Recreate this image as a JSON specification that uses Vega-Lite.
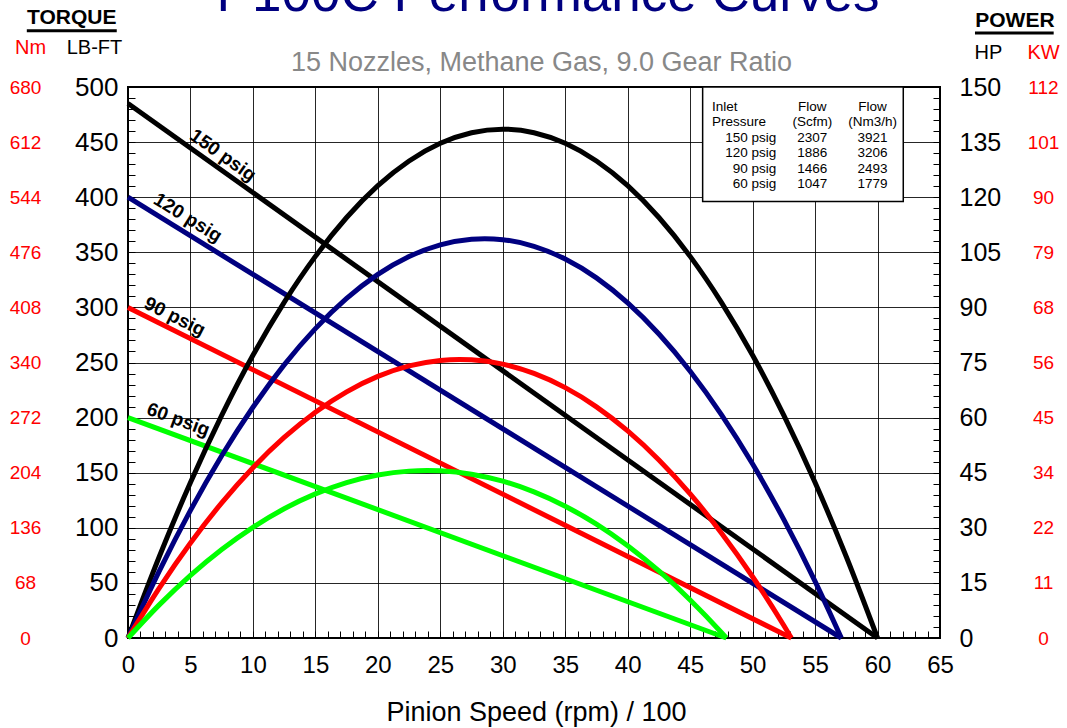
{
  "$schema": "https://vega.github.io/schema/vega-lite/v6.json",
  "width": 812,
  "height": 551,
  "autosize": {"type": "none"},
  "padding": {"left": 128, "top": 87, "right": 127, "bottom": 90},
  "background": "white",
  "title": {
    "text": "P100C Performance Curves",
    "color": "#000080",
    "fontSize": 53,
    "fontWeight": "normal",
    "font": "Liberation Sans",
    "anchor": "middle",
    "frame": "group",
    "dx": 14,
    "dy": 57,
    "baseline": "alphabetic",
    "offset": 0
  },
  "config": {
    "view": {"stroke": "#000000", "strokeWidth": 2},
    "axis": {
      "labelFont": "Liberation Sans",
      "titleFont": "Liberation Sans",
      "labelColor": "#000000",
      "titleColor": "#000000",
      "tickColor": "#000000",
      "tickWidth": 1,
      "gridColor": "#000000",
      "gridWidth": 1,
      "gridOpacity": 0.85,
      "labelOverlap": false,
      "labelFlush": false,
      "titleFontWeight": "normal"
    },
    "text": {"font": "Liberation Sans"}
  },
  "datasets": {
    "torque": [
      {"series": "150 psig", "speed": 0, "torque": 485},
      {"series": "150 psig", "speed": 60, "torque": 0},
      {"series": "120 psig", "speed": 0, "torque": 400},
      {"series": "120 psig", "speed": 57.1, "torque": 0},
      {"series": "90 psig", "speed": 0, "torque": 300},
      {"series": "90 psig", "speed": 53.1, "torque": 0},
      {"series": "60 psig", "speed": 0, "torque": 200},
      {"series": "60 psig", "speed": 47.9, "torque": 0}
    ],
    "power": [
      {"series": "150 psig", "speed": 0, "hp": 0},
      {"series": "150 psig", "speed": 2.5, "hp": 22.12},
      {"series": "150 psig", "speed": 5, "hp": 42.33},
      {"series": "150 psig", "speed": 7.5, "hp": 60.6},
      {"series": "150 psig", "speed": 10, "hp": 76.96},
      {"series": "150 psig", "speed": 12.5, "hp": 91.38},
      {"series": "150 psig", "speed": 15, "hp": 103.89},
      {"series": "150 psig", "speed": 17.5, "hp": 114.47},
      {"series": "150 psig", "speed": 20, "hp": 123.13},
      {"series": "150 psig", "speed": 22.5, "hp": 129.86},
      {"series": "150 psig", "speed": 25, "hp": 134.67},
      {"series": "150 psig", "speed": 27.5, "hp": 137.56},
      {"series": "150 psig", "speed": 30, "hp": 138.52},
      {"series": "150 psig", "speed": 32.5, "hp": 137.56},
      {"series": "150 psig", "speed": 35, "hp": 134.67},
      {"series": "150 psig", "speed": 37.5, "hp": 129.86},
      {"series": "150 psig", "speed": 40, "hp": 123.13},
      {"series": "150 psig", "speed": 42.5, "hp": 114.47},
      {"series": "150 psig", "speed": 45, "hp": 103.89},
      {"series": "150 psig", "speed": 47.5, "hp": 91.38},
      {"series": "150 psig", "speed": 50, "hp": 76.96},
      {"series": "150 psig", "speed": 52.5, "hp": 60.6},
      {"series": "150 psig", "speed": 55, "hp": 42.33},
      {"series": "150 psig", "speed": 57.5, "hp": 22.12},
      {"series": "150 psig", "speed": 60, "hp": 0},
      {"series": "120 psig", "speed": 0, "hp": 0},
      {"series": "120 psig", "speed": 2.5, "hp": 18.21},
      {"series": "120 psig", "speed": 5, "hp": 34.75},
      {"series": "120 psig", "speed": 7.5, "hp": 49.62},
      {"series": "120 psig", "speed": 10, "hp": 62.82},
      {"series": "120 psig", "speed": 12.5, "hp": 74.36},
      {"series": "120 psig", "speed": 15, "hp": 84.23},
      {"series": "120 psig", "speed": 17.5, "hp": 92.43},
      {"series": "120 psig", "speed": 20, "hp": 98.97},
      {"series": "120 psig", "speed": 22.5, "hp": 103.84},
      {"series": "120 psig", "speed": 25, "hp": 107.04},
      {"series": "120 psig", "speed": 27.5, "hp": 108.57},
      {"series": "120 psig", "speed": 28.55, "hp": 108.72},
      {"series": "120 psig", "speed": 30, "hp": 108.44},
      {"series": "120 psig", "speed": 32.5, "hp": 106.64},
      {"series": "120 psig", "speed": 35, "hp": 103.17},
      {"series": "120 psig", "speed": 37.5, "hp": 98.04},
      {"series": "120 psig", "speed": 40, "hp": 91.23},
      {"series": "120 psig", "speed": 42.5, "hp": 82.76},
      {"series": "120 psig", "speed": 45, "hp": 72.63},
      {"series": "120 psig", "speed": 47.5, "hp": 60.82},
      {"series": "120 psig", "speed": 50, "hp": 47.35},
      {"series": "120 psig", "speed": 52.5, "hp": 32.21},
      {"series": "120 psig", "speed": 55, "hp": 15.41},
      {"series": "120 psig", "speed": 57.1, "hp": 0},
      {"series": "90 psig", "speed": 0, "hp": 0},
      {"series": "90 psig", "speed": 2.5, "hp": 13.61},
      {"series": "90 psig", "speed": 5, "hp": 25.87},
      {"series": "90 psig", "speed": 7.5, "hp": 36.79},
      {"series": "90 psig", "speed": 10, "hp": 46.36},
      {"series": "90 psig", "speed": 12.5, "hp": 54.59},
      {"series": "90 psig", "speed": 15, "hp": 61.48},
      {"series": "90 psig", "speed": 17.5, "hp": 67.02},
      {"series": "90 psig", "speed": 20, "hp": 71.21},
      {"series": "90 psig", "speed": 22.5, "hp": 74.06},
      {"series": "90 psig", "speed": 25, "hp": 75.57},
      {"series": "90 psig", "speed": 26.55, "hp": 75.83},
      {"series": "90 psig", "speed": 27.5, "hp": 75.73},
      {"series": "90 psig", "speed": 30, "hp": 74.55},
      {"series": "90 psig", "speed": 32.5, "hp": 72.02},
      {"series": "90 psig", "speed": 35, "hp": 68.15},
      {"series": "90 psig", "speed": 37.5, "hp": 62.93},
      {"series": "90 psig", "speed": 40, "hp": 56.37},
      {"series": "90 psig", "speed": 42.5, "hp": 48.46},
      {"series": "90 psig", "speed": 45, "hp": 39.21},
      {"series": "90 psig", "speed": 47.5, "hp": 28.61},
      {"series": "90 psig", "speed": 50, "hp": 16.67},
      {"series": "90 psig", "speed": 52.5, "hp": 3.39},
      {"series": "90 psig", "speed": 53.1, "hp": 0},
      {"series": "60 psig", "speed": 0, "hp": 0},
      {"series": "60 psig", "speed": 2.5, "hp": 9.02},
      {"series": "60 psig", "speed": 5, "hp": 17.05},
      {"series": "60 psig", "speed": 7.5, "hp": 24.09},
      {"series": "60 psig", "speed": 10, "hp": 30.13},
      {"series": "60 psig", "speed": 12.5, "hp": 35.18},
      {"series": "60 psig", "speed": 15, "hp": 39.23},
      {"series": "60 psig", "speed": 17.5, "hp": 42.29},
      {"series": "60 psig", "speed": 20, "hp": 44.36},
      {"series": "60 psig", "speed": 22.5, "hp": 45.43},
      {"series": "60 psig", "speed": 23.95, "hp": 45.6},
      {"series": "60 psig", "speed": 25, "hp": 45.51},
      {"series": "60 psig", "speed": 27.5, "hp": 44.6},
      {"series": "60 psig", "speed": 30, "hp": 42.69},
      {"series": "60 psig", "speed": 32.5, "hp": 39.79},
      {"series": "60 psig", "speed": 35, "hp": 35.89},
      {"series": "60 psig", "speed": 37.5, "hp": 31.01},
      {"series": "60 psig", "speed": 40, "hp": 25.12},
      {"series": "60 psig", "speed": 42.5, "hp": 18.25},
      {"series": "60 psig", "speed": 45, "hp": 10.37},
      {"series": "60 psig", "speed": 47.5, "hp": 1.51},
      {"series": "60 psig", "speed": 47.9, "hp": 0}
    ],
    "labels": [
      {"series": "150 psig", "speed": 7.0, "torque": 428.4},
      {"series": "120 psig", "speed": 4.2, "torque": 370.6},
      {"series": "90 psig", "speed": 3.3, "torque": 281.4},
      {"series": "60 psig", "speed": 3.6, "torque": 185.0}
    ],
    "table": [
      {"line": 1, "c1": "Inlet", "c2": "Flow", "c3": "Flow"},
      {"line": 2, "c1": "Pressure", "c2": "(Scfm)", "c3": "(Nm3/h)"},
      {"line": 3, "c1": "150 psig", "c2": "2307", "c3": "3921"},
      {"line": 4, "c1": "120 psig", "c2": "1886", "c3": "3206"},
      {"line": 5, "c1": "90  psig", "c2": "1466", "c3": "2493"},
      {"line": 6, "c1": "60  psig", "c2": "1047", "c3": "1779"}
    ]
  },
  "layer": [
    {
      "data": {"name": "torque"},
      "mark": {"type": "line", "opacity": 0},
      "encoding": {
        "x": {
          "field": "speed", "type": "quantitative",
          "scale": {"domain": [0, 65], "nice": false, "zero": false},
          "axis": {
            "orient": "top",
            "values": [0, 5, 10, 15, 20, 25, 30, 35, 40, 45, 50, 55, 60, 65],
            "grid": true, "labels": false, "ticks": false, "domain": false,
            "title": "15 Nozzles, Methane Gas, 9.0 Gear Ratio",
            "titleColor": "#888888", "titleFontSize": 27,
            "titleX": 413, "titleY": -17, "titleAlign": "center", "titleBaseline": "alphabetic"
          }
        },
        "y": {
          "field": "torque", "type": "quantitative",
          "scale": {"domain": [0, 500], "nice": false},
          "axis": {
            "orient": "left",
            "values": [0, 50, 100, 150, 200, 250, 300, 350, 400, 450, 500],
            "grid": true, "ticks": false, "domain": false,
            "labelExpr": "format(datum.value * 1.36, '.0f')",
            "labelColor": "#ff0000", "labelFontSize": 19, "labelAlign": "center", "labelBaseline": "middle",
            "labelPadding": 103,
            "title": "Nm", "titleColor": "#ff0000", "titleFontSize": 20, "titleAngle": 0,
            "titleX": -98, "titleY": -40, "titleAlign": "center", "titleBaseline": "middle"
          }
        }
      }
    },
    {
      "data": {"name": "torque"},
      "mark": {"type": "line", "strokeWidth": 5},
      "encoding": {
        "x": {
          "field": "speed", "type": "quantitative",
          "axis": {
            "orient": "bottom",
            "values": [0,1,2,3,4,5,6,7,8,9,10,11,12,13,14,15,16,17,18,19,20,21,22,23,24,25,26,27,28,29,30,31,32,33,34,35,36,37,38,39,40,41,42,43,44,45,46,47,48,49,50,51,52,53,54,55,56,57,58,59,60,61,62,63,64,65],
            "labelExpr": "datum.value % 5 == 0 ? datum.label : ''",
            "grid": false, "domain": false, "tickSize": -7,
            "labelFontSize": 24, "labelPadding": 22, "labelBaseline": "top",
            "title": "Pinion Speed (rpm) / 100", "titleFontSize": 27,
            "titleX": 408, "titleY": 74, "titleAlign": "center", "titleBaseline": "middle"
          }
        },
        "y": {
          "field": "torque", "type": "quantitative",
          "scale": {"domain": [0, 500], "nice": false},
          "axis": {
            "orient": "left",
            "values": [0,10,20,30,40,50,60,70,80,90,100,110,120,130,140,150,160,170,180,190,200,210,220,230,240,250,260,270,280,290,300,310,320,330,340,350,360,370,380,390,400,410,420,430,440,450,460,470,480,490,500],
            "labelExpr": "datum.value % 50 == 0 ? datum.label : ''",
            "grid": false, "domain": false, "tickSize": -7,
            "labelFontSize": 26, "labelPadding": 17, "labelBaseline": "middle",
            "title": "LB-FT", "titleFontSize": 20, "titleAngle": 0,
            "titleX": -34, "titleY": -40, "titleAlign": "center", "titleBaseline": "middle"
          }
        },
        "color": {
          "field": "series", "type": "nominal",
          "scale": {"domain": ["150 psig", "120 psig", "90 psig", "60 psig"], "range": ["#000000", "#000080", "#ff0000", "#00ff00"]},
          "legend": null
        }
      }
    },
    {
      "data": {"name": "power"},
      "mark": {"type": "line", "strokeWidth": 5, "interpolate": "monotone"},
      "encoding": {
        "x": {"field": "speed", "type": "quantitative", "axis": null},
        "y": {
          "field": "hp", "type": "quantitative",
          "scale": {"domain": [0, 150], "nice": false},
          "axis": {
            "orient": "right",
            "values": [0,3,6,9,12,15,18,21,24,27,30,33,36,39,42,45,48,51,54,57,60,63,66,69,72,75,78,81,84,87,90,93,96,99,102,105,108,111,114,117,120,123,126,129,132,135,138,141,144,147,150],
            "labelExpr": "datum.value % 15 == 0 ? datum.label : ''",
            "grid": false, "domain": false, "tickSize": -7,
            "labelFontSize": 25, "labelPadding": 26, "labelBaseline": "middle", "labelAlign": "left",
            "title": "HP", "titleFontSize": 20, "titleAngle": 0,
            "titleX": 48, "titleY": -35, "titleAlign": "center", "titleBaseline": "middle"
          }
        },
        "color": {"field": "series", "type": "nominal", "legend": null}
      }
    },
    {
      "data": {"name": "power"},
      "mark": {"type": "line", "opacity": 0},
      "encoding": {
        "x": {"field": "speed", "type": "quantitative", "axis": null},
        "y": {
          "field": "hp", "type": "quantitative",
          "scale": {"domain": [0, 150], "nice": false},
          "axis": {
            "orient": "right",
            "values": [0, 15, 30, 45, 60, 75, 90, 105, 120, 135, 150],
            "grid": false, "ticks": false, "domain": false,
            "labelExpr": "['0','11','22','34','45','56','68','79','90','101','112'][round(datum.value / 15)]",
            "labelColor": "#ff0000", "labelFontSize": 19, "labelAlign": "center", "labelBaseline": "middle",
            "labelPadding": 103,
            "title": "KW", "titleColor": "#ff0000", "titleFontSize": 20, "titleAngle": 0,
            "titleX": 103, "titleY": -35, "titleAlign": "center", "titleBaseline": "middle"
          }
        }
      }
    },
    {
      "data": {"name": "labels"},
      "transform": [{"filter": "datum.series == '150 psig'"}],
      "mark": {"type": "text", "angle": 35.5, "dy": -13, "fontSize": 19, "fontWeight": "bold", "align": "center", "baseline": "middle", "color": "#000000"},
      "encoding": {
        "x": {"field": "speed", "type": "quantitative", "axis": null},
        "y": {"field": "torque", "type": "quantitative", "scale": {"domain": [0, 500], "nice": false}, "axis": null},
        "text": {"field": "series"}
      }
    },
    {
      "data": {"name": "labels"},
      "transform": [{"filter": "datum.series == '120 psig'"}],
      "mark": {"type": "text", "angle": 31.7, "dy": -14, "fontSize": 19, "fontWeight": "bold", "align": "center", "baseline": "middle", "color": "#000000"},
      "encoding": {
        "x": {"field": "speed", "type": "quantitative", "axis": null},
        "y": {"field": "torque", "type": "quantitative", "scale": {"domain": [0, 500], "nice": false}, "axis": null},
        "text": {"field": "series"}
      }
    },
    {
      "data": {"name": "labels"},
      "transform": [{"filter": "datum.series == '90 psig'"}],
      "mark": {"type": "text", "angle": 26.5, "dy": -12.5, "fontSize": 19, "fontWeight": "bold", "align": "center", "baseline": "middle", "color": "#000000"},
      "encoding": {
        "x": {"field": "speed", "type": "quantitative", "axis": null},
        "y": {"field": "torque", "type": "quantitative", "scale": {"domain": [0, 500], "nice": false}, "axis": null},
        "text": {"field": "series"}
      }
    },
    {
      "data": {"name": "labels"},
      "transform": [{"filter": "datum.series == '60 psig'"}],
      "mark": {"type": "text", "angle": 20.2, "dy": -15.5, "fontSize": 19, "fontWeight": "bold", "align": "center", "baseline": "middle", "color": "#000000"},
      "encoding": {
        "x": {"field": "speed", "type": "quantitative", "axis": null},
        "y": {"field": "torque", "type": "quantitative", "scale": {"domain": [0, 500], "nice": false}, "axis": null},
        "text": {"field": "series"}
      }
    },
    {
      "data": {"values": [{}]},
      "mark": {"type": "rect", "fill": "#ffffff", "stroke": "#000000", "strokeWidth": 1.5},
      "encoding": {
        "x": {"datum": 46.0, "type": "quantitative", "axis": null},
        "x2": {"datum": 62.06},
        "y": {"datum": 500, "type": "quantitative", "scale": {"domain": [0, 500], "nice": false}, "axis": null},
        "y2": {"datum": 396}
      }
    },
    {
      "data": {"name": "table"},
      "transform": [{"filter": "datum.line <= 2"}],
      "mark": {"type": "text", "align": "left", "baseline": "middle", "fontSize": 13.5, "color": "#000000"},
      "encoding": {
        "x": {"datum": 46.75, "type": "quantitative", "axis": null},
        "y": {"field": "line", "type": "quantitative", "scale": {"domain": [1, 6], "range": [19.7, 97]}, "axis": null},
        "text": {"field": "c1"}
      }
    },
    {
      "data": {"name": "table"},
      "transform": [{"filter": "datum.line >= 3"}],
      "mark": {"type": "text", "align": "right", "baseline": "middle", "fontSize": 13.5, "color": "#000000"},
      "encoding": {
        "x": {"datum": 51.9, "type": "quantitative", "axis": null},
        "y": {"field": "line", "type": "quantitative", "scale": {"domain": [1, 6], "range": [19.7, 97]}, "axis": null},
        "text": {"field": "c1"}
      }
    },
    {
      "data": {"name": "table"},
      "mark": {"type": "text", "align": "center", "baseline": "middle", "fontSize": 13.5, "color": "#000000"},
      "encoding": {
        "x": {"datum": 54.78, "type": "quantitative", "axis": null},
        "y": {"field": "line", "type": "quantitative", "scale": {"domain": [1, 6], "range": [19.7, 97]}, "axis": null},
        "text": {"field": "c2"}
      }
    },
    {
      "data": {"name": "table"},
      "mark": {"type": "text", "align": "center", "baseline": "middle", "fontSize": 13.5, "color": "#000000"},
      "encoding": {
        "x": {"datum": 59.6, "type": "quantitative", "axis": null},
        "y": {"field": "line", "type": "quantitative", "scale": {"domain": [1, 6], "range": [19.7, 97]}, "axis": null},
        "text": {"field": "c3"}
      }
    },
    {
      "data": {"values": [{"header": "TORQUE"}]},
      "mark": {"type": "text", "align": "center", "baseline": "middle", "fontSize": 21, "fontWeight": "bold", "color": "#000000"},
      "encoding": {
        "x": {"datum": -4.5, "type": "quantitative", "axis": null},
        "y": {"datum": 563, "type": "quantitative", "scale": {"domain": [0, 500], "nice": false}, "axis": null},
        "text": {"field": "header"}
      }
    },
    {
      "data": {"values": [{"header": "POWER"}]},
      "mark": {"type": "text", "align": "center", "baseline": "middle", "fontSize": 21, "fontWeight": "bold", "color": "#000000"},
      "encoding": {
        "x": {"datum": 71.0, "type": "quantitative", "axis": null},
        "y": {"datum": 560, "type": "quantitative", "scale": {"domain": [0, 500], "nice": false}, "axis": null},
        "text": {"field": "header"}
      }
    },
    {
      "data": {"values": [{}]},
      "mark": {"type": "rule", "strokeWidth": 3, "color": "#000000"},
      "encoding": {
        "x": {"datum": -8.1, "type": "quantitative", "axis": null},
        "x2": {"datum": -0.9},
        "y": {"datum": 551, "type": "quantitative", "scale": {"domain": [0, 500], "nice": false}, "axis": null}
      }
    },
    {
      "data": {"values": [{}]},
      "mark": {"type": "rule", "strokeWidth": 3, "color": "#000000"},
      "encoding": {
        "x": {"datum": 67.8, "type": "quantitative", "axis": null},
        "x2": {"datum": 74.1},
        "y": {"datum": 549, "type": "quantitative", "scale": {"domain": [0, 500], "nice": false}, "axis": null}
      }
    }
  ],
  "resolve": {"scale": {"y": "independent"}, "axis": {"x": "independent", "y": "independent"}}
}
